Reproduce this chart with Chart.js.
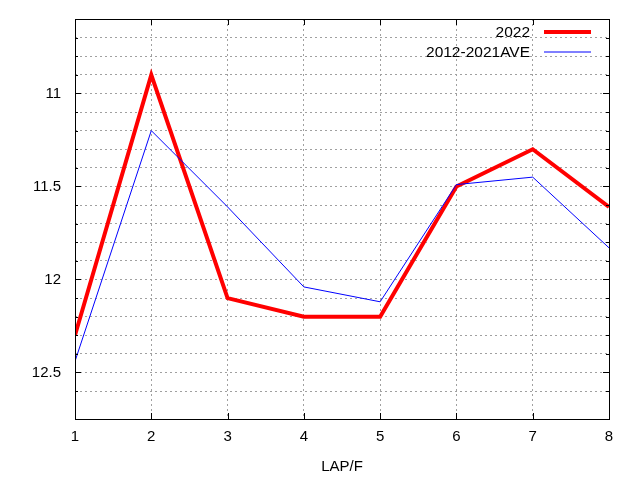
<!DOCTYPE html>
<html>
<head>
<meta charset="utf-8">
<script src="https://cdn.jsdelivr.net/npm/chart.js@4/dist/chart.umd.min.js"></script>
<style>
html,body{margin:0;padding:0;background:#fff;}
#wrap{width:640px;height:480px;position:relative;}
</style>
</head>
<body>
<div id="wrap"><canvas id="c" width="640" height="480"></canvas></div>
<script>
const laps = [1, 2, 3, 4, 5, 6, 7, 8];
const series2022 = [12.30, 10.90, 12.10, 12.20, 12.20, 11.50, 11.30, 11.61];
const seriesAve = [12.44, 11.20, 11.61, 12.04, 12.12, 11.49, 11.45, 11.83];
const seriesNames = ['2022', '2012-2021AVE'];
const xTitle = 'LAP/F';

const FONT = '"Liberation Sans", Arial, sans-serif';

const framePlugin = {
  id: 'frame',
  afterDraw(chart) {
    const ctx = chart.ctx;
    const a = chart.chartArea;
    const xs = chart.scales.x, ys = chart.scales.y;
    ctx.save();
    ctx.strokeStyle = '#000';
    ctx.lineWidth = 1;
    ctx.setLineDash([]);
    ctx.beginPath();
    ys.ticks.forEach(t => {
      const v = t.value;
      const major = Math.abs(v * 2 - Math.round(v * 2)) < 1e-6;
      const len = major ? 6 : 3;
      const y = Math.round(ys.getPixelForValue(v)) + 0.5;
      ctx.moveTo(a.left, y); ctx.lineTo(a.left + len, y);
      ctx.moveTo(a.right, y); ctx.lineTo(a.right - len, y);
    });
    xs.ticks.forEach(t => {
      const x = Math.round(xs.getPixelForValue(t.value)) + 0.5;
      ctx.moveTo(x, a.bottom); ctx.lineTo(x, a.bottom - 6);
      ctx.moveTo(x, a.top); ctx.lineTo(x, a.top + 6);
    });
    ctx.stroke();
    ctx.strokeRect(Math.round(a.left) + 0.5, Math.round(a.top) + 0.5,
      Math.round(a.right - a.left), Math.round(a.bottom - a.top));
    ctx.font = '15.5px ' + FONT;
    ctx.textAlign = 'right';
    ctx.textBaseline = 'middle';
    ctx.fillStyle = '#000';
    chart.data.datasets.forEach((ds, i) => {
      const y = 32 + i * 20;
      ctx.fillText(ds.label, 530, y + 1);
      ctx.strokeStyle = ds.borderColor;
      ctx.lineWidth = ds.borderWidth;
      ctx.beginPath();
      ctx.moveTo(544, y); ctx.lineTo(591, y);
      ctx.stroke();
    });
    ctx.restore();
  }
};

new Chart(document.getElementById('c'), {
  type: 'line',
  data: {
    datasets: [
      {
        label: seriesNames[0],
        data: laps.map((x, i) => ({x: x, y: series2022[i]})),
        borderColor: '#ff0000',
        borderWidth: 4,
        pointRadius: 0,
        tension: 0,
        fill: false,
        order: 1
      },
      {
        label: seriesNames[1],
        data: laps.map((x, i) => ({x: x, y: seriesAve[i]})),
        borderColor: '#0000ff',
        borderWidth: 1,
        pointRadius: 0,
        tension: 0,
        fill: false,
        order: 0
      }
    ]
  },
  options: {
    responsive: false,
    animation: false,
    devicePixelRatio: 1,
    layout: {padding: {left: 0, right: 31, top: 19, bottom: 0}},
    plugins: {legend: {display: false}, tooltip: {enabled: false}},
    scales: {
      x: {
        type: 'linear',
        min: 1, max: 8,
        ticks: {stepSize: 1, color: '#000', font: {family: FONT, size: 15}, padding: 9, maxRotation: 0},
        grid: {color: '#a0a0a0', lineWidth: 1, drawTicks: false},
        border: {display: false, dash: [2, 3]},
        title: {display: true, text: xTitle, color: '#000', font: {family: FONT, size: 15}, padding: {top: 4, bottom: 4}},
        afterFit(s) { s.height = 61; s.paddingLeft = 0; s.paddingRight = 0; }
      },
      y: {
        type: 'linear',
        reverse: true,
        min: 10.6, max: 12.75,
        ticks: {
          stepSize: 0.1, color: '#000', font: {family: FONT, size: 15}, padding: 14, autoSkip: false,
          callback(v) {
            const m = Math.abs(v * 2 - Math.round(v * 2)) < 1e-6;
            return m ? String(Math.round(v * 10) / 10) : '';
          }
        },
        grid: {color: '#a0a0a0', lineWidth: 1, drawTicks: false},
        border: {display: false, dash: [2, 3]},
        afterFit(s) { s.width = 75; s.paddingTop = 0; s.paddingBottom = 0; }
      }
    }
  },
  plugins: [framePlugin]
});
</script>
</body>
</html>
